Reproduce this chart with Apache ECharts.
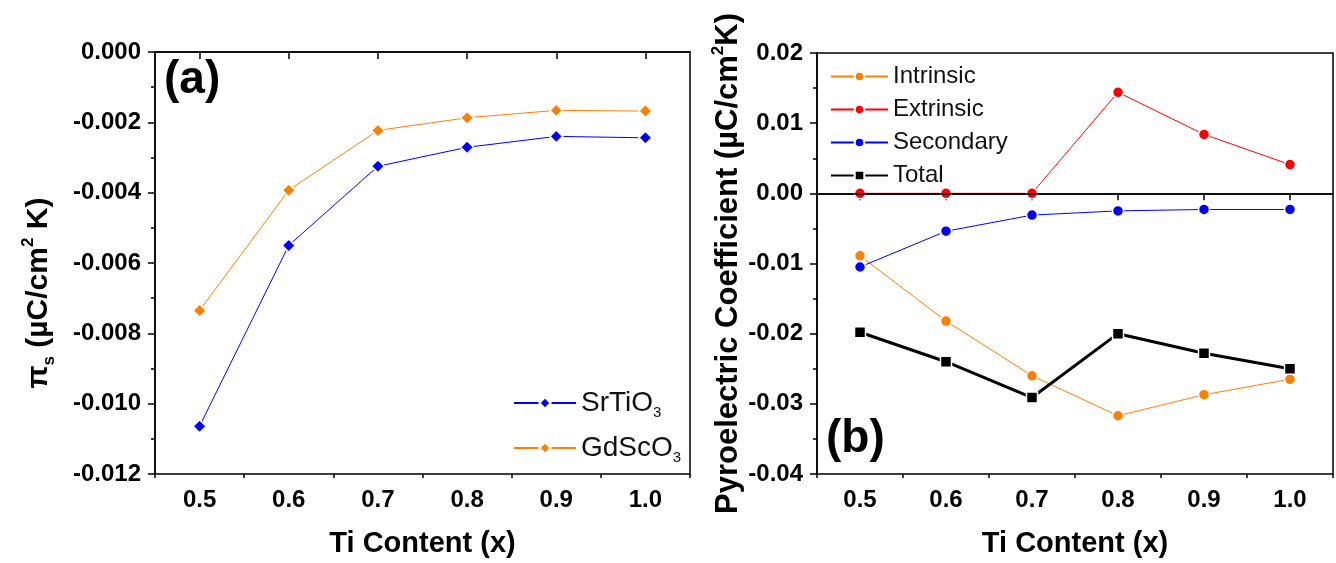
<!DOCTYPE html>
<html><head><meta charset="utf-8">
<script src="https://cdn.jsdelivr.net/npm/echarts@6/dist/echarts.min.js"></script>
<style>html,body{margin:0;padding:0;background:#fff}#c{width:1336px;height:563px}</style>
</head><body><div id="c"></div>
<script>
// ---- data ----
const tiContent = [0.5, 0.6, 0.7, 0.8, 0.9, 1.0];
// panel (a)
const srTiO3 = [-0.01064, -0.0055, -0.00325, -0.00271, -0.0024, -0.00244];
const gdScO3 = [-0.00735, -0.00393, -0.00223, -0.00187, -0.00166, -0.00168];
// panel (b)
const intrinsic = [-0.0089, -0.0182, -0.0260, -0.0317, -0.0287, -0.0265];
const extrinsic = [0, 0, 0, 0.0144, 0.0084, 0.0041];
const secondary = [-0.0105, -0.0054, -0.0031, -0.0025, -0.0023, -0.0023];
const total = [-0.0198, -0.0240, -0.0291, -0.0200, -0.0228, -0.0250];
// tick labels
const xMajorTicks = [0.5, 0.6, 0.7, 0.8, 0.9, 1.0];
const xMinorTicks = [0.45, 0.55, 0.65, 0.75, 0.85, 0.95, 1.05];

const FONT = '"Liberation Sans", Arial, sans-serif';
const pair = arr => tiContent.map((x, i) => [x, arr[i]]);

function xAxesFor(gi) {
  return [{
    type: 'value', gridIndex: gi, position: 'bottom', min: 0.45, max: 1.05,
    axisLine: { lineStyle: { color: '#000', width: 1.5 } },
    axisTick: { customValues: xMajorTicks, length: 7, lineStyle: { color: '#000', width: 1.5 } },
    axisLabel: { customValues: xMajorTicks, formatter: v => v.toFixed(1), color: '#000',
      fontSize: 24, fontWeight: 'bold', fontFamily: FONT, margin: 14 },
    splitLine: { show: false },
    name: 'Ti Content (x)', nameLocation: 'middle', nameGap: 55,
    nameTextStyle: { color: '#000', fontSize: 29, fontWeight: 'bold', fontFamily: FONT }
  }, {
    type: 'value', gridIndex: gi, position: 'bottom', min: 0.45, max: 1.05,
    axisLine: { show: false },
    axisTick: { customValues: xMinorTicks, length: 4, lineStyle: { color: '#000', width: 1.5 } },
    axisLabel: { show: false }, splitLine: { show: false }
  }];
}

function richName(fs) {
  return {
    b: { fontSize: fs, fontWeight: 'bold', fontFamily: FONT, color: '#000', lineHeight: fs + 8 },
    sub: { fontSize: 17, fontWeight: 'bold', fontFamily: FONT, color: '#000', lineHeight: 20, verticalAlign: 'bottom' },
    sup: { fontSize: 17, fontWeight: 'bold', fontFamily: FONT, color: '#000', lineHeight: 20, verticalAlign: 'top' }
  };
}

function yAxisFor(gi, min, max, interval, dec, name, gap, fs, pad) {
  return {
    type: 'value', gridIndex: gi, min: min, max: max, interval: interval,
    axisLine: { lineStyle: { color: '#000', width: 1.5 } },
    axisTick: { length: 7, lineStyle: { color: '#000', width: 1.5 } },
    minorTick: { show: true, splitNumber: 2, length: 4, lineStyle: { color: '#000', width: 1.5 } },
    axisLabel: { formatter: v => v.toFixed(dec), color: '#000', fontSize: 24, fontWeight: 'bold',
      fontFamily: FONT, margin: 14 },
    splitLine: { show: false },
    name: name, nameLocation: 'middle', nameRotate: 90, nameGap: gap,
    nameTextStyle: { rich: richName(fs), padding: pad }
  };
}

const border = { borderColor: '#fff', borderWidth: 1.5 };
function lineSeries(name, data, color, symbol, size, xi, yi, width) {
  return {
    type: 'line', name: name, data: pair(data), xAxisIndex: xi, yAxisIndex: yi,
    symbol: symbol, symbolSize: size,
    lineStyle: { color: color, width: width || 1 },
    itemStyle: Object.assign({ color: color }, border),
    z: 3
  };
}

const s1 = lineSeries('Intrinsic', intrinsic, '#FF8000', 'circle', 11, 2, 1);
s1.markLine = { silent: true, symbol: 'none', animation: false, label: { show: false },
  lineStyle: { color: '#000', width: 1.5, type: 'solid' }, data: [{ yAxis: 0 }] };

const option = {
  animation: false,
  backgroundColor: '#fff',
  grid: [
    { left: 155, top: 52, width: 535, height: 423, show: true, borderColor: '#000', borderWidth: 1.5 },
    { left: 817, top: 53, width: 516, height: 421, show: true, borderColor: '#000', borderWidth: 1.5 }
  ],
  xAxis: xAxesFor(0).concat(xAxesFor(1)),
  yAxis: [
    yAxisFor(0, -0.012, 0, 0.002, 3, '{b|π}{sub|s}{b| (µC/cm}{sup|2}{b| K)}', 97, 30, [0, 60, 0, 0]),
    yAxisFor(1, -0.04, 0.02, 0.01, 2, '{b|Pyroelectric Coefficient (µC/cm}{sup|2}{b|K)}', 67, 31, 0)
  ],
  legend: [
    {
      data: ['SrTiO3', 'GdScO3'], orient: 'vertical', left: 508, top: 384,
      itemWidth: 62, itemHeight: 14, itemGap: 14,
      formatter: n => '{t|' + n.slice(0, -1) + '}{sub|3}',
      textStyle: { rich: {
        t: { fontSize: 28, fontFamily: FONT, color: '#111', lineHeight: 34 },
        sub: { fontSize: 15, fontFamily: FONT, color: '#111', lineHeight: 16, verticalAlign: 'bottom' }
      } }
    },
    {
      data: ['Intrinsic', 'Extrinsic', 'Secondary', 'Total'], orient: 'vertical', left: 825, top: 57,
      itemWidth: 57, itemHeight: 12, itemGap: 4,
      textStyle: { fontSize: 24, fontFamily: FONT, color: '#111', lineHeight: 29 }
    }
  ],
  graphic: [
    { type: 'text', left: 164, top: 57, style: { text: '(a)', font: 'bold 46px "Liberation Sans", Arial', fill: '#000' } },
    { type: 'text', left: 826, top: 416, style: { text: '(b)', font: 'bold 46px "Liberation Sans", Arial', fill: '#000' } }
  ],
  series: [
    lineSeries('SrTiO3', srTiO3, '#0000FF', 'diamond', 13, 0, 0),
    lineSeries('GdScO3', gdScO3, '#FF8000', 'diamond', 13, 0, 0),
    s1,
    lineSeries('Extrinsic', extrinsic, '#FF0000', 'circle', 11, 2, 1),
    lineSeries('Secondary', secondary, '#0000FF', 'circle', 11, 2, 1),
    lineSeries('Total', total, '#000000', 'rect', 11, 2, 1, 3)
  ]
};

const chart = echarts.init(document.getElementById('c'), null, { renderer: 'canvas' });
chart.setOption(option);
</script>
</body></html>
